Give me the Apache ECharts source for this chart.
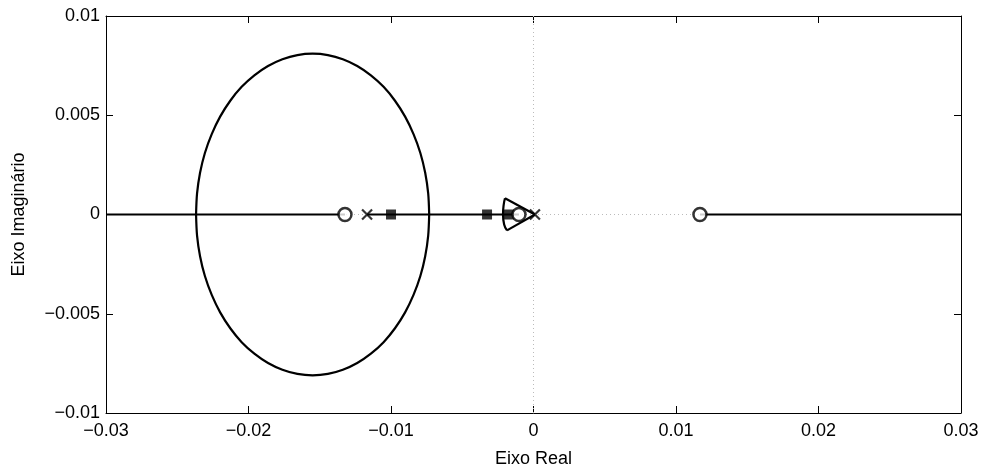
<!DOCTYPE html>
<html>
<head>
<meta charset="utf-8">
<script src="https://cdn.jsdelivr.net/npm/echarts@6/dist/echarts.min.js"></script>
<style>
  html, body { margin: 0; padding: 0; background: #fff; overflow: hidden; }
  #chart { width: 985px; height: 473px; }
</style>
</head>
<body>
<div id="chart"></div>
<script>
// Root locus on the complex plane
const xTicks = [-0.03, -0.02, -0.01, 0, 0.01, 0.02, 0.03];
const xTickLabels = ['\u22120.03', '\u22120.02', '\u22120.01', '0', '0.01', '0.02', '0.03'];
const yTicks = [-0.01, -0.005, 0, 0.005, 0.01];
const yTickLabels = ['\u22120.01', '\u22120.005', '0', '0.005', '0.01'];

// Open-loop poles (x) and zeros (o)
const poles = [[-0.01168, 0], [0.0001, 0]];
const zeros = [[-0.01323, 0], [-0.00102, 0], [0.01168, 0]];
// Closed-loop poles (filled squares)
const closedPoles = [[-0.0100, 0], [-0.00326, 0], [-0.00172, 0]];

// Real-axis branches
const realSeg1 = [[-0.03, 0], [-0.01323, 0]];
const realSeg2 = [[-0.01168, 0], [-0.00102, 0]];
const realSeg3 = [[0.01168, 0], [0.03, 0]];

// Complex branches: large loop (upper and lower halves)
const loopUpper = [
  [-0.00732, 0], [-0.00739, 0.00106], [-0.00760, 0.00210], [-0.00794, 0.00310],
  [-0.00842, 0.00405], [-0.00901, 0.00493], [-0.00972, 0.00573], [-0.01052, 0.00643],
  [-0.01141, 0.00701], [-0.01237, 0.00748], [-0.01338, 0.00782], [-0.01443, 0.00803],
  [-0.0155, 0.0081], [-0.01657, 0.00803], [-0.01762, 0.00782], [-0.01863, 0.00748],
  [-0.01959, 0.00701], [-0.02048, 0.00643], [-0.02128, 0.00573], [-0.02199, 0.00493],
  [-0.02258, 0.00405], [-0.02306, 0.00310], [-0.02340, 0.00210], [-0.02361, 0.00106],
  [-0.02368, 0]
];
const loopLower = [
  [-0.00732, 0], [-0.00739, -0.00106], [-0.00760, -0.00210], [-0.00794, -0.00310],
  [-0.00842, -0.00405], [-0.00901, -0.00493], [-0.00972, -0.00573], [-0.01052, -0.00643],
  [-0.01141, -0.00701], [-0.01237, -0.00748], [-0.01338, -0.00782], [-0.01443, -0.00803],
  [-0.0155, -0.0081], [-0.01657, -0.00803], [-0.01762, -0.00782], [-0.01863, -0.00748],
  [-0.01959, -0.00701], [-0.02048, -0.00643], [-0.02128, -0.00573], [-0.02199, -0.00493],
  [-0.02258, -0.00405], [-0.02306, -0.00310], [-0.02340, -0.00210], [-0.02361, -0.00106],
  [-0.02368, 0]
];

// Small branches leaving the pole near the origin
const smallUpper = [[0.0001, 0], [-0.0020, 0.00082]];
const smallLower = [[0.0001, 0], [-0.00186, -0.0008]];
const smallArc = [[-0.0020, 0.00082], [-0.00209, 0.0005], [-0.00214, 0], [-0.00206, -0.0005], [-0.00186, -0.0008]];

// Dotted reference axes
const hAxisRef = [[-0.03, 0], [0.03, 0]];
const vAxisRef = [[0, -0.01], [0, 0.01]];

function labelFor(ticks, labels) {
  return function (v) {
    for (let i = 0; i < ticks.length; i++) {
      if (Math.abs(ticks[i] - v) < 1e-9) return labels[i];
    }
    return '';
  };
}

const FONT = 'Liberation Sans, Arial, Helvetica, sans-serif';
const chart = echarts.init(document.getElementById('chart'), null, { renderer: 'canvas' });

function lineSeries(data, opts) {
  return Object.assign({
    type: 'line', data: data, symbol: 'none', silent: true, animation: false,
    lineStyle: { color: '#000', width: 2.2 }, z: 3
  }, opts || {});
}

const axisCommon = {
  type: 'value',
  axisLine: { show: true, onZero: false, lineStyle: { color: '#000', width: 1 } },
  axisTick: { show: true, inside: true, length: 7, lineStyle: { color: '#000', width: 1 } },
  splitLine: { show: false }
};

chart.setOption({
  animation: false,
  backgroundColor: '#fff',
  grid: { left: 106, right: 24, top: 16, bottom: 48, containLabel: false },
  xAxis: [
    Object.assign({}, axisCommon, {
      min: -0.03, max: 0.03, interval: 0.01, position: 'bottom',
      name: 'Eixo Real', nameLocation: 'middle', nameGap: 37,
      nameTextStyle: { color: '#000', fontSize: 18, fontFamily: FONT },
      axisLabel: { color: '#000', fontSize: 18, fontFamily: FONT, margin: 9,
        formatter: labelFor(xTicks, xTickLabels) }
    }),
    Object.assign({}, axisCommon, {
      min: -0.03, max: 0.03, interval: 0.01, position: 'top',
      axisLabel: { show: false }
    })
  ],
  yAxis: [
    Object.assign({}, axisCommon, {
      min: -0.01, max: 0.01, interval: 0.005, position: 'left',
      name: 'Eixo Imagin\u00e1rio', nameLocation: 'middle', nameGap: 78,
      nameTextStyle: { color: '#000', fontSize: 18, fontFamily: FONT },
      axisLabel: { color: '#000', fontSize: 18, fontFamily: FONT, margin: 6,
        formatter: labelFor(yTicks, yTickLabels) }
    }),
    Object.assign({}, axisCommon, {
      min: -0.01, max: 0.01, interval: 0.005, position: 'right',
      axisLabel: { show: false }
    })
  ],
  series: [
    lineSeries(hAxisRef, { lineStyle: { color: '#bbb', width: 1, type: [1, 3] }, z: 1 }),
    lineSeries(vAxisRef, { lineStyle: { color: '#bbb', width: 1, type: [1, 3] }, z: 1 }),
    lineSeries(realSeg1),
    lineSeries(realSeg2),
    lineSeries(realSeg3),
    lineSeries(loopUpper, { smooth: 0.3 }),
    lineSeries(loopLower, { smooth: 0.3 }),
    lineSeries(smallUpper),
    lineSeries(smallLower),
    lineSeries(smallArc, { smooth: 0.5 }),
    {
      type: 'scatter', data: closedPoles, symbol: 'rect', symbolSize: 10, silent: true,
      itemStyle: { color: '#000' }, z: 5
    },
    {
      type: 'scatter', data: zeros, symbol: 'circle', symbolSize: 13, silent: true,
      itemStyle: { color: '#fff', borderColor: '#000', borderWidth: 2.5 }, z: 6
    },
    {
      type: 'scatter', data: poles, symbol: 'path://M0,0L10,10M10,0L0,10', symbolSize: 10,
      silent: true,
      itemStyle: { color: 'none', borderColor: '#000', borderWidth: 2.2 }, z: 7
    }
  ]
});
</script>
</body>
</html>
